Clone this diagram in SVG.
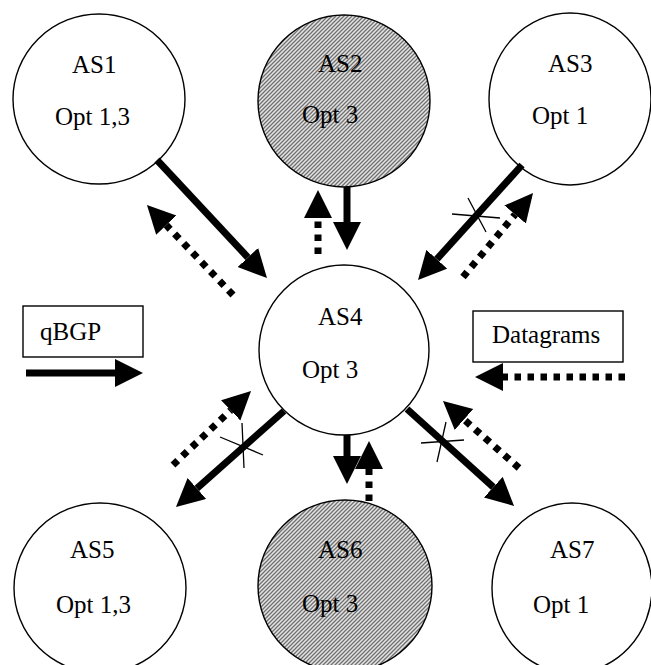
<svg xmlns="http://www.w3.org/2000/svg" width="651" height="665" viewBox="0 0 651 665">
  <style>
    .node { stroke: #000; stroke-width: 1.4; }
    .plain { fill: #fff; }
    .shaded { fill: url(#hatch); }
    .label { font-family: "Liberation Serif", "Times New Roman", serif; font-size: 25px; fill: #000; }
    .solid { stroke: #000; stroke-width: 7; fill: none; marker-end: url(#head); }
    .dotted { stroke: #000; stroke-width: 7; fill: none; stroke-dasharray: 6.5 6.5; marker-end: url(#head); }
    .cross { stroke: #000; stroke-width: 1.3; fill: none; }
    .legend-box { fill: #fff; stroke: #000; stroke-width: 1.4; }
  </style>
  <defs>
    <pattern id="hatch" patternUnits="userSpaceOnUse" width="4" height="4">
      <rect width="4" height="4" fill="#e4e4e4"/>
      <path d="M-1,1 l2,-2 M0,4 l4,-4 M3,5 l2,-2" stroke="#707070" stroke-width="1.3"/>
    </pattern>
    <marker id="head" markerUnits="userSpaceOnUse" markerWidth="30" markerHeight="30" refX="0" refY="14" orient="auto">
      <path d="M0,0 L28,14 L0,28 z" fill="#000"/>
    </marker>
  </defs>

  <rect width="651" height="665" fill="#fff"/>

  <!-- autonomous systems -->
  <g id="AS1">
    <ellipse class="node plain" cx="99" cy="99" rx="86" ry="85"/>
    <text class="label" x="72" y="73">AS1</text>
    <text class="label" x="55" y="125">Opt 1,3</text>
  </g>
  <g id="AS2">
    <ellipse class="node shaded" cx="344" cy="101" rx="86" ry="86"/>
    <text class="label" x="318" y="72">AS2</text>
    <text class="label" x="302" y="123">Opt 3</text>
  </g>
  <g id="AS3">
    <ellipse class="node plain" cx="570" cy="99" rx="81" ry="86"/>
    <text class="label" x="548" y="72">AS3</text>
    <text class="label" x="532" y="124">Opt 1</text>
  </g>
  <g id="AS4">
    <ellipse class="node plain" cx="344" cy="350" rx="85" ry="85"/>
    <text class="label" x="318" y="325">AS4</text>
    <text class="label" x="302" y="378">Opt 3</text>
  </g>
  <g id="AS5">
    <ellipse class="node plain" cx="100" cy="588" rx="86" ry="85"/>
    <text class="label" x="70" y="558">AS5</text>
    <text class="label" x="56" y="613">Opt 1,3</text>
  </g>
  <g id="AS6">
    <ellipse class="node shaded" cx="345" cy="586" rx="87" ry="86"/>
    <text class="label" x="318" y="558">AS6</text>
    <text class="label" x="302" y="612">Opt 3</text>
  </g>
  <g id="AS7">
    <ellipse class="node plain" cx="572" cy="588" rx="80" ry="85"/>
    <text class="label" x="550" y="558">AS7</text>
    <text class="label" x="533" y="613">Opt 1</text>
  </g>

  <!-- legend -->
  <g id="legend-qbgp">
    <rect class="legend-box" x="23" y="306" width="120" height="51"/>
    <text class="label" x="40" y="340">qBGP</text>
    <line class="solid" x1="26" y1="373" x2="115" y2="373"/>
  </g>
  <g id="legend-datagrams">
    <rect class="legend-box" x="473" y="311" width="150" height="51"/>
    <text class="label" x="492" y="343">Datagrams</text>
    <line class="dotted" x1="625" y1="377" x2="503" y2="377"/>
  </g>

  <!-- connectors: solid = qBGP, dotted = datagrams -->
  <g id="connectors">
    <line class="solid" x1="157" y1="160" x2="247.9" y2="257.5"/>
    <line class="dotted" x1="233" y1="295" x2="166.3" y2="225.2"/>

    <line class="solid" x1="347" y1="187" x2="347" y2="222"/>
    <line class="dotted" x1="318" y1="254" x2="318" y2="218"/>

    <line class="solid" x1="522" y1="165" x2="436.8" y2="259.2"/>
    <line class="dotted" x1="463" y1="277" x2="515.1" y2="214.5"/>

    <line class="solid" x1="284" y1="411" x2="196.9" y2="488.4"/>
    <line class="dotted" x1="173" y1="465" x2="230.7" y2="410.3"/>

    <line class="solid" x1="347" y1="435" x2="347" y2="456"/>
    <line class="dotted" x1="369" y1="501" x2="369" y2="469"/>

    <line class="solid" x1="407" y1="409" x2="493.3" y2="487.2"/>
    <line class="dotted" x1="519" y1="468" x2="464" y2="419.5"/>

    <!-- blocked-route crosses -->
    <path class="cross" d="M452,214 L500,218 M468,198 L486,232"/>
    <path class="cross" d="M220,437 L263,455 M242,423 L244,468"/>
    <path class="cross" d="M421,443 L464,440 M446,422 L437,462"/>
  </g>
</svg>
